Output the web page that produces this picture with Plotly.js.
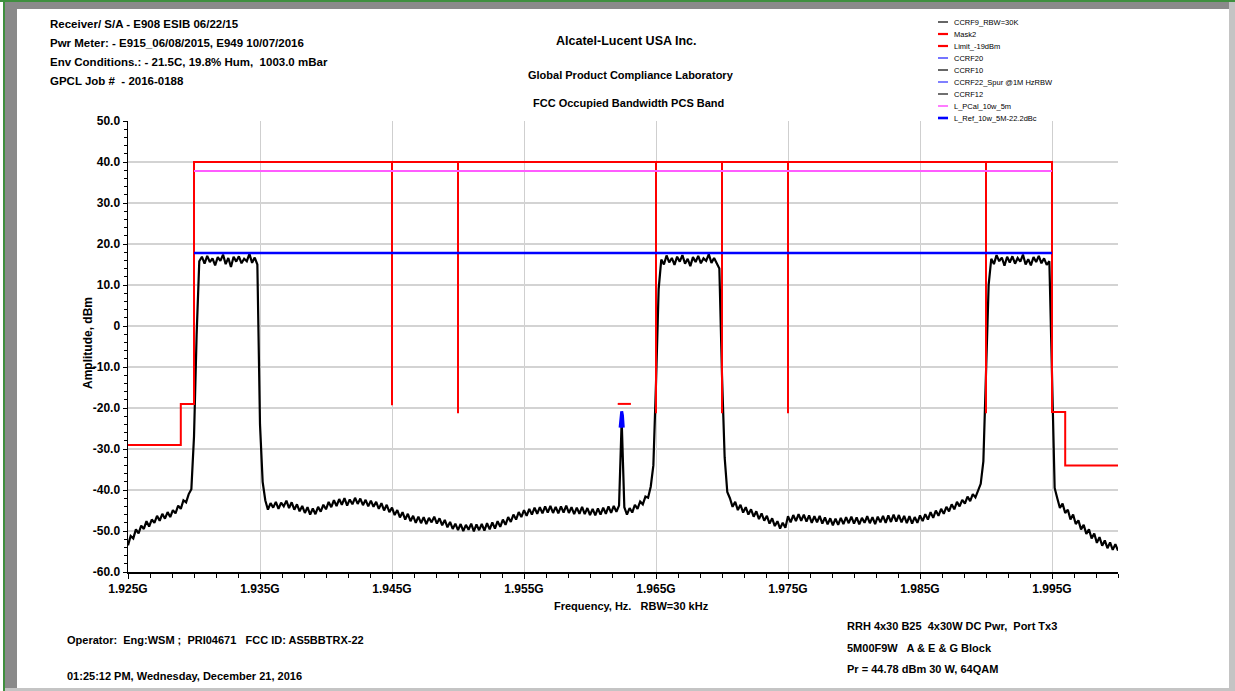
<!DOCTYPE html>
<html>
<head>
<meta charset="utf-8">
<script src="https://cdn.plot.ly/plotly-3.0.1.min.js"></script>
<style>
  html, body { margin: 0; padding: 0; background: #ffffff; }
  #wrap { position: relative; width: 1235px; height: 691px; overflow: hidden; }
  #chart { position: absolute; left: 0; top: 0; width: 1235px; height: 691px; }
  .fr { position: absolute; }
</style>
</head>
<body>
<div id="wrap">
  <div id="chart"></div>
  <div class="fr" style="left:3px;top:0;width:2px;height:691px;background:#3f8f3f;"></div>
  <div class="fr" style="left:0;top:0;width:1235px;height:2px;background:#3f8f3f;"></div>
  <div class="fr" style="left:5px;top:2px;width:1225px;height:7px;background:#8a8a8a;"></div>
  <div class="fr" style="left:5px;top:2px;width:12px;height:689px;background:#8a8a8a;"></div>
  <div class="fr" style="left:1229px;top:2px;width:6px;height:689px;background:#c4c4c4;"></div>
  <div class="fr" style="left:5px;top:688px;width:1230px;height:3px;background:#c4c4c4;"></div>
</div>
<script>
// ---------------- data (frequencies in MHz, levels in dBm) ----------------
const sampleStep = 0.2;

const lowEdgeStart = 1925.0;
const lowEdge = [-53.5,-51.2,-51.8,-49.6,-50.6,-48.7,-49.5,-47.6,-48.9,-47.2,
                 -48.0,-46.3,-47.5,-45.8,-47.0,-45.4,-46.6,-44.9,-45.7,-43.8,
                 -44.6,-42.5,-43.0,-41.0,-39.8,-27.0,-2.0];
const carrier1Start = 1930.4;
const carrier1 = [15.8,16.9,15.2,17.1,15.6,16.5,14.8,16.8,15.9,17.4,15.1,16.6,
                  14.4,16.9,15.7,17.0,15.3,16.4,15.8,17.6,15.4,16.7,15.0];
const floor1Start = 1935.0;
const floor1 = [-24.0,-38.0,-42.5,-44.8,-43.2,-44.3,-42.9,-44.6,-43.1,-44.0,
                -42.6,-44.4,-43.0,-44.8,-43.5,-45.2,-43.9,-45.6,-44.2,-46.0,
                -44.5,-45.9,-44.1,-45.3,-43.6,-44.7,-42.9,-44.2,-42.5,-43.9,
                -42.2,-43.6,-42.0,-43.8,-42.3,-43.5,-41.9,-43.4,-42.1,-43.7,
                -42.4,-44.0,-42.6,-44.1,-42.9,-44.6,-43.2,-45.0,-43.6,-45.4,
                -44.3,-46.1,-44.9,-46.7,-45.4,-47.2,-45.8,-47.6,-46.3,-48.0,
                -46.5,-48.1,-46.6,-48.3,-46.8,-47.9,-46.5,-48.2,-46.9,-48.6,
                -47.3,-49.1,-47.8,-49.5,-48.2,-49.8,-48.3,-50.0,-48.5,-49.7,
                -48.2,-50.1,-48.4,-49.8,-48.3,-49.9,-48.1,-49.6,-47.9,-49.4,
                -47.6,-49.0,-47.2,-48.5,-46.6,-47.8,-46.0,-47.2,-45.4,-46.6,
                -44.9,-46.3,-44.6,-46.0,-44.3,-45.8,-44.2,-45.7,-44.0,-45.5,
                -43.9,-45.6,-44.1,-45.7,-44.0,-45.5,-43.8,-45.6,-44.2,-45.9,
                -44.3,-45.8,-44.1,-45.9,-44.4,-46.1,-44.6,-46.2,-44.5,-46.0,
                -44.3,-45.8,-44.0,-45.6,-43.9,-45.3,-43.8,-23.0,-44.2,-46.0,
                -44.4,-45.5,-43.6,-44.6,-42.8,-43.5,-41.6,-41.9,-39.2,-34.0,
                -14.0,9.0];
const carrier2Start = 1965.4;
const carrier2 = [16.2,15.0,17.2,15.5,16.6,14.9,16.9,15.7,17.3,15.2,16.4,14.6,
                  16.8,15.6,17.1,15.3,16.5,15.9,17.5,15.4,16.6,15.1,14.0];
const floor2Start = 1970.0;
const floor2 = [-12.0,-32.0,-40.5,-42.0,-44.1,-42.9,-44.9,-43.6,-45.5,-44.2,
                -46.0,-44.7,-46.5,-45.2,-47.1,-45.7,-47.5,-46.3,-48.2,-46.9,
                -48.8,-47.6,-49.4,-48.0,-49.2,-46.4,-47.9,-46.1,-47.6,-45.9,
                -47.5,-46.0,-47.7,-46.2,-48.0,-46.4,-47.9,-46.3,-48.2,-46.7,
                -48.4,-46.9,-48.6,-47.0,-48.5,-46.8,-48.3,-46.6,-48.1,-46.5,
                -48.2,-46.7,-48.4,-46.8,-48.0,-46.4,-48.1,-46.6,-48.3,-46.5,
                -47.9,-46.3,-48.0,-46.2,-47.8,-46.0,-47.7,-46.1,-47.9,-46.3,
                -48.1,-46.4,-48.2,-46.6,-48.0,-46.2,-47.6,-45.9,-47.2,-45.4,
                -46.8,-45.0,-46.3,-44.6,-45.8,-44.1,-45.2,-43.5,-44.7,-42.9,
                -44.0,-42.4,-43.3,-41.6,-42.7,-41.0,-41.8,-40.1,-38.5,-33.0,
                -12.0,10.0];
const carrier3Start = 1990.4;
const carrier3 = [16.4,15.1,17.3,15.8,16.7,14.7,16.9,15.5,17.0,15.2,16.6,15.7,
                  17.4,15.0,16.3,14.8,16.8,15.6,17.1,15.3,16.5,14.9,15.8];
const highEdgeStart = 1995.0;
const highEdge = [-15.0,-39.5,-42.0,-44.4,-43.3,-45.6,-44.8,-47.2,-46.0,-48.3,
                  -47.4,-49.6,-48.5,-50.7,-49.6,-51.8,-50.6,-52.9,-51.5,-53.6,
                  -52.3,-54.2,-52.8,-54.6,-53.2,-54.8];

// Mask2
const maskFreq  = [1925,1929,1929,1930,1930,1945,1945,1945,1950,1950,1950,1965,1965,1965,
                   1970,1970,1970,1975,1975,1975,1990,1990,1990,1995,1995,1996,1996,2000];
const maskLevel = [-29,-29,-19,-19,40,40,-19.3,40,40,-21.3,40,40,-21.3,40,
                   40,-21.3,40,40,-21.3,40,40,-21.3,40,40,-21,-21,-34,-34];
// Limit_-19dBm
const limitFreq = [1962.1,1963.1];
const limitLevel = [-19,-19];
// CCRF22_Spur @1M HzRBW
const spurFreq = [1962.28,1962.34,1962.40,1962.46,1962.52,1962.46,1962.40,1962.34,1962.28];
const spurLevel = [-24.8,-21.8,-20.8,-21.8,-24.8,-23.0,-22.0,-23.0,-24.8];
// L_PCal_10w_5m
const pcalFreq = [1930,1995];
const pcalLevel = [37.8,37.8];
// L_Ref_10w_5M-22.2dBc
const refFreq = [1930,1995];
const refLevel = [17.8,17.8];

// axes
const xTickVals = [1925,1935,1945,1955,1965,1975,1985,1995];
const xTickText = ["1.925G","1.935G","1.945G","1.955G","1.965G","1.975G","1.985G","1.995G"];
const yTickVals = [50,40,30,20,10,0,-10,-20,-30,-40,-50,-60];
const yTickText = ["50.0","40.0","30.0","20.0","10.0","0","-10.0","-20.0","-30.0","-40.0","-50.0","-60.0"];

// legend
const legendNames = ["CCRF9_RBW=30K","Mask2","Limit_-19dBm","CCRF20","CCRF10",
                     "CCRF22_Spur @1M HzRBW","CCRF12","L_PCal_10w_5m","L_Ref_10w_5M-22.2dBc"];
const legendColors = ["#000000","#ff0000","#ff0000","#3a3aff","#000000","#4a4aff","#333333","#ff5cff","#0000ff"];
const legendWidths = [1.2,2.2,2.2,1.4,1.2,1.4,1.4,1.6,2.6];

// texts
const headerLines = ["Receiver/ S/A - E908 ESIB 06/22/15",
                     "Pwr Meter: - E915_06/08/2015, E949 10/07/2016",
                     "Env Conditions.: - 21.5C, 19.8% Hum,  1003.0 mBar",
                     "GPCL Job #  - 2016-0188"];
const titleLines = ["Alcatel-Lucent USA Inc.","Global Product Compliance Laboratory","FCC Occupied Bandwidth PCS Band"];
const infoLines = ["RRH 4x30 B25  4x30W DC Pwr,  Port Tx3","5M00F9W   A & E & G Block","Pr = 44.78 dBm 30 W, 64QAM"];
const operatorText = "Operator:  Eng:WSM ;  PRI04671   FCC ID: AS5BBTRX-22";
const dateText = "01:25:12 PM, Wednesday, December 21, 2016";
const xTitle = "Frequency, Hz.   RBW=30 kHz";
const yTitle = "Amplitude, dBm";

// ---------------- build ----------------
const traceX = [], traceY = [];
[[lowEdgeStart,lowEdge],[carrier1Start,carrier1],[floor1Start,floor1],[carrier2Start,carrier2],
 [floor2Start,floor2],[carrier3Start,carrier3],[highEdgeStart,highEdge]].forEach(([s,v])=>{
  v.forEach((val,i)=>{ traceX.push(+(s + i*sampleStep).toFixed(2)); traceY.push(val); });
});

const L = 128, R = 1118, T = 121, B = 572;
const px2x = p => (p - L) / (R - L);
const py2y = p => (B - p) / (B - T);

const FB = "Liberation Sans, Arial, sans-serif";
const FN = "Liberation Sans Narrow, Liberation Sans, Arial, sans-serif";

const data = [
  {x: traceX, y: traceY, mode: 'lines', line: {color: '#000000', width: 2.2}, hoverinfo: 'skip'},
  {x: maskFreq, y: maskLevel, mode: 'lines', line: {color: '#ff0000', width: 2}, hoverinfo: 'skip'},
  {x: limitFreq, y: limitLevel, mode: 'lines', line: {color: '#ff0000', width: 2}, hoverinfo: 'skip'},
  {x: pcalFreq, y: pcalLevel, mode: 'lines', line: {color: '#ff5cff', width: 2}, hoverinfo: 'skip'},
  {x: refFreq, y: refLevel, mode: 'lines', line: {color: '#0000ff', width: 2.5}, hoverinfo: 'skip'},
  {x: spurFreq, y: spurLevel, mode: 'lines', line: {color: '#0000ff', width: 3}, hoverinfo: 'skip'}
];

const annotations = [];
const shapes = [];
headerLines.forEach((t,i)=>{
  annotations.push({xref:'paper', yref:'paper', x: px2x(48), y: py2y([24,43,62,81][i]), xanchor:'left', yanchor:'middle',
    text: '<b>'+t+'</b>', showarrow:false, font:{family:FB, size:11.5, color:'#000'}});
});
titleLines.forEach((t,i)=>{
  annotations.push({xref:'paper', yref:'paper', x: px2x([626,631,628][i]), y: py2y([41,75,103][i]), xanchor:'center', yanchor:'middle',
    text: '<b>'+t+'</b>', showarrow:false, font:{family:FB, size:[12.5,11,11][i], color:'#000'}});
});
infoLines.forEach((t,i)=>{
  annotations.push({xref:'paper', yref:'paper', x: px2x(845), y: py2y([626,648,669][i]), xanchor:'left', yanchor:'middle',
    text: '<b>'+t+'</b>', showarrow:false, font:{family:FB, size:11, color:'#000'}});
});
annotations.push({xref:'paper', yref:'paper', x: px2x(65), y: py2y(640), xanchor:'left', yanchor:'middle',
  text: '<b>'+operatorText+'</b>', showarrow:false, font:{family:FB, size:11, color:'#000'}});
annotations.push({xref:'paper', yref:'paper', x: px2x(65), y: py2y(676), xanchor:'left', yanchor:'middle',
  text: '<b>'+dateText+'</b>', showarrow:false, font:{family:FB, size:11, color:'#000'}});
annotations.push({xref:'paper', yref:'paper', x: px2x(631), y: py2y(606), xanchor:'center', yanchor:'middle',
  text: '<b>'+xTitle+'</b>', showarrow:false, font:{family:FB, size:11, color:'#000'}});
annotations.push({xref:'paper', yref:'paper', x: px2x(88), y: py2y(343), xanchor:'center', yanchor:'middle', textangle:-90,
  text: '<b>'+yTitle+'</b>', showarrow:false, font:{family:FB, size:12, color:'#000'}});

legendNames.forEach((n,i)=>{
  const py = 22 + i*12;
  shapes.push({type:'line', xref:'paper', yref:'paper', x0: px2x(938), x1: px2x(948), y0: py2y(py), y1: py2y(py),
    line:{color: legendColors[i], width: legendWidths[i]}});
  annotations.push({xref:'paper', yref:'paper', x: px2x(952), y: py2y(py), xanchor:'left', yanchor:'middle',
    text: n, showarrow:false, font:{family:FN, size:7.5, color:'#000'}});
});

const layout = {
  width: 1235, height: 691,
  margin: {l: L, r: 1235 - R, t: T, b: 691 - B, pad: 0},
  paper_bgcolor: '#ffffff', plot_bgcolor: '#ffffff',
  showlegend: false,
  xaxis: {
    range: [1925, 2000], tickmode: 'array', tickvals: xTickVals, ticktext: xTickText,
    showgrid: true, gridcolor: '#cfcfcf', gridwidth: 1,
    showline: true, linecolor: '#000', linewidth: 1.5,
    ticks: 'outside', ticklen: 5, tickcolor: '#000', tickwidth: 1,
    tickfont: {family: FB, size: 12, color: '#000', weight: 'bold'},
    minor: {dtick: 10/6, tick0: 1925, ticks: 'outside', ticklen: 4, tickcolor: '#000', showgrid: false},
    zeroline: false, fixedrange: true
  },
  yaxis: {
    range: [-60, 50], tickmode: 'array', tickvals: yTickVals, ticktext: yTickText,
    showgrid: true, gridcolor: '#d3d3d3', gridwidth: 2,
    showline: true, linecolor: '#000', linewidth: 1.5,
    ticks: 'outside', ticklen: 4, tickcolor: '#000', tickwidth: 1,
    tickfont: {family: FB, size: 12, color: '#000', weight: 'bold'},
    minor: {dtick: 2, tick0: 0, ticks: 'outside', ticklen: 3, tickcolor: '#000', showgrid: false},
    zeroline: false, fixedrange: true
  },
  annotations: annotations,
  shapes: shapes
};

Plotly.newPlot('chart', data, layout, {staticPlot: true, displayModeBar: false});
</script>
</body>
</html>
